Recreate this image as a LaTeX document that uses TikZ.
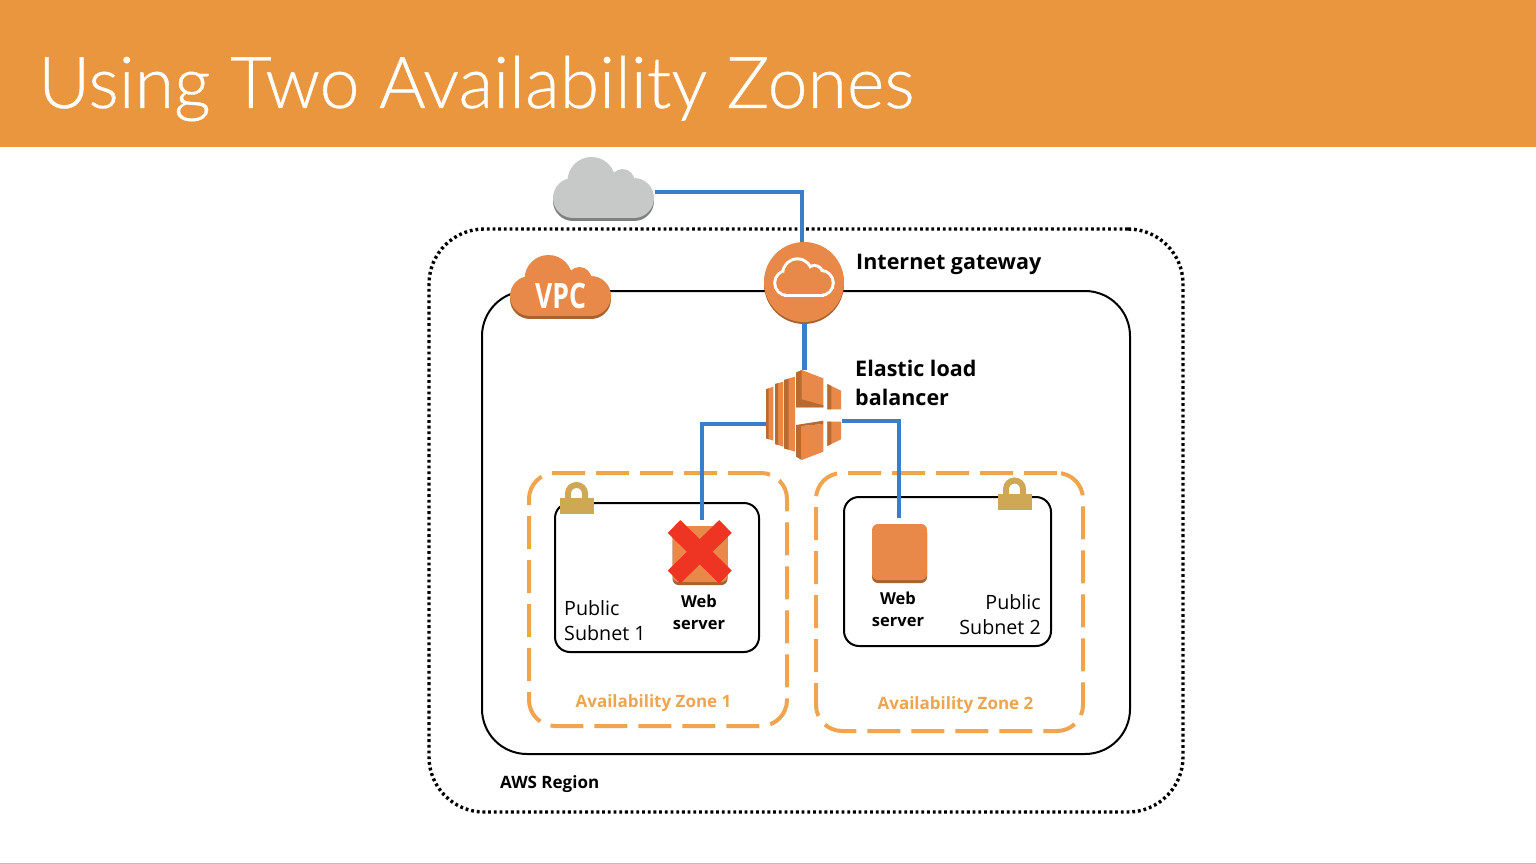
\documentclass[tikz,border=0pt]{standalone}
\usepackage{fontspec}
\setmainfont{Open Sans}
\newfontfamily\titlefont[FakeBold=0.5]{Lato Light}
\usetikzlibrary{shapes}

\definecolor{bannerorange}{HTML}{E9963F}
\definecolor{iconorange}{HTML}{E8894A}
\definecolor{icondark}{HTML}{A8622F}
\definecolor{iconmid}{HTML}{B86A33}
\definecolor{zoneorange}{HTML}{EFA44F}
\definecolor{linkblue}{HTML}{3A7DC9}
\definecolor{cloudgrey}{HTML}{C7C9C8}
\definecolor{clouddark}{HTML}{7F8180}
\definecolor{lockgold}{HTML}{CFA855}
\definecolor{crossred}{HTML}{EE3524}

\newcommand{\cloudfill}[1]{%
    \path[#1] (-12,-8) circle (24) (19,-8) circle (12) (30.5,9) circle (20) (-30.5,9) circle (20);
    \path[#1] (-30.5,-11) rectangle (30.5,29);}

\tikzset{
    pics/cloudicon/.style 2 args={code={
        \begin{scope}[shift={(0,3)}]\cloudfill{fill=#2}\end{scope}
        \cloudfill{fill=#1}
    }},
    pics/igwcloud/.style={code={
        \cloudfill{draw=white,line width=6}
        \cloudfill{fill=iconorange}
    }},
    pics/lockicon/.style={code={
        \draw[lockgold,line width=6] (-8.5,-6) -- (-8.5,-12.5) arc (180:360:8.5) -- (8.5,-6);
        \fill[lockgold] (-17,-8) rectangle (17,8);
    }}
}

\begin{document}
\begin{tikzpicture}[x=1pt,y=-1pt]
    \tikzstyle{every node}=[inner sep=0pt]
    \tikzstyle{regionbox}=[rectangle, draw, line width=3.4pt, dash pattern=on 2.8pt off 2.9pt, rounded corners=55pt]
    \tikzstyle{vpcbox}=[rectangle, draw, line width=2pt, rounded corners=45pt]
    \tikzstyle{zonebox}=[rectangle, draw=zoneorange, line width=4pt, dash pattern=on 33pt off 11pt, rounded corners=26pt]
    \tikzstyle{subnetbox}=[rectangle, draw, line width=2pt, rounded corners=15pt]
    \tikzstyle{link}=[draw=linkblue, line width=4pt]
    \tikzstyle{server}=[rectangle, fill=iconorange, rounded corners=6pt, minimum width=55pt, minimum height=56pt]
    \tikzstyle{boldlabel}=[font=\fontsize{21.5}{29}\selectfont\bfseries, align=left]
    \tikzstyle{weblabel}=[font=\fontsize{16.5}{22.5}\selectfont\bfseries, align=center]
    \tikzstyle{regionlabel}=[font=\fontsize{17}{23}\selectfont\bfseries]
    \tikzstyle{subnetlabel}=[font=\fontsize{19.7}{25}\selectfont]
    \tikzstyle{zonelabel}=[font=\fontsize{17}{20}\selectfont\bfseries, text=zoneorange]

    \useasboundingbox (0,0) rectangle (1536,864);
    \fill[white] (0,0) rectangle (1536,864);
    \fill[black!25] (0,863) rectangle (1536,864);

    % title banner
    \fill[bannerorange] (0,0) rectangle (1536,147);
    \node[anchor=base west, text=white, font=\fontsize{71.6}{90}\selectfont\titlefont] (title) at (38,108) {Using Two Availability Zones};

    % boxes
    \node[regionbox, minimum width=754pt, minimum height=583pt] (region) at (806,520.5) {};
    \node[vpcbox, minimum width=648pt, minimum height=463pt] (vpc) at (806,522.5) {};
    \node[zonebox, minimum width=258pt, minimum height=253pt] (zoneA) at (658,599.5) {};
    \node[zonebox, minimum width=267pt, minimum height=258pt] (zoneB) at (949.5,602) {};
    \node[subnetbox, minimum width=204pt, minimum height=149pt] (subnetA) at (657,577.5) {};
    \node[subnetbox, minimum width=207pt, minimum height=149pt] (subnetB) at (947.5,571.5) {};

    % icon anchors
    \node[minimum width=101pt, minimum height=64pt] (internet) at (604,192) {};
    \node[circle, minimum size=80pt] (igw) at (804,282) {};
    \node[minimum width=76pt, minimum height=90pt] (elb) at (804,415) {};
    \node[minimum width=55pt, minimum height=56pt] (webA) at (700,554) {};
    \node[minimum width=55pt, minimum height=56pt] (webB) at (899.5,552) {};

    % connectors
    \draw[link] (internet.east) -| ([xshift=-2pt]igw.north);
    \draw[link, line width=5pt] (igw.south) -- (elb.north);
    \draw[link] ([yshift=-9pt]elb.west) -| ([xshift=2pt,yshift=6pt]webA.north);
    \draw[link] ([yshift=-6pt]elb.east) -| ([xshift=-.5pt,yshift=6pt]webB.north);

    % clouds
    \pic at (603.5,189) {cloudicon={cloudgrey}{clouddark}};
    \pic at (560.5,287) {cloudicon={iconorange}{icondark}};
    \node[text=white, xscale=.76, font=\fontsize{35}{35}\selectfont\bfseries] (vpclabel) at (560.5,296) {VPC};

    % internet gateway
    \fill[icondark] (804,284) circle (40);
    \fill[iconorange] (igw.center) circle (40);
    \pic[scale=.55] at (804,278) {igwcloud};

    % load balancer
    \begin{scope}[shift={(740,350)},x=.3333pt,y=-.3333pt]
        \fill[iconorange] (78,118) -- (100,110) -- (100,272) -- (78,265) -- cycle;
        \fill[iconorange] (105,102) -- (130,95) -- (130,290) -- (105,282) -- cycle;
        \fill[iconorange] (132,90) -- (165,80) -- (165,305) -- (132,295) -- cycle;
        \fill[iconmid] (78,118) -- (86,115) -- (86,268) -- (78,265) -- cycle;
        \fill[iconmid] (105,102) -- (114,100) -- (114,285) -- (105,282) -- cycle;
        \fill[iconmid] (132,90) -- (146,86) -- (146,299) -- (132,295) -- cycle;
        \fill[iconorange] (185,60) -- (250,85) -- (250,172) -- (168,172) -- (168,68) -- cycle;
        \fill[iconorange] (185,228) -- (250,222) -- (250,305) -- (185,330) -- cycle;
        \fill[iconmid] (168,68) -- (185,60) -- (185,148) -- (250,166) -- (250,172) -- (168,172) -- cycle;
        \fill[iconmid] (168,225) -- (250,212) -- (250,222) -- (185,228) -- (185,330) -- (168,320) -- cycle;
        \fill[iconorange] (262,102) -- (303,122) -- (303,178) -- (262,178) -- cycle;
        \fill[iconorange] (262,215) -- (303,215) -- (303,268) -- (262,288) -- cycle;
        \fill[iconmid] (262,102) -- (274,108) -- (274,178) -- (262,178) -- cycle;
        \fill[iconmid] (262,215) -- (274,215) -- (274,282) -- (262,288) -- cycle;
    \end{scope}

    % servers
    \node[server, fill=icondark] (webAshade) at (700,557) {};
    \node[server] (webAface) at (700,554) {};
    \node[server, fill=icondark] (webBshade) at (899.5,555) {};
    \node[server] (webBface) at (899.5,552) {};

    % failed server
    \coordinate (crossNW) at (674,526.5);
    \coordinate (crossSE) at (725.5,577);
    \coordinate (crossNE) at (725.5,526.5);
    \coordinate (crossSW) at (674,577);
    \draw[crossred, line width=18pt] (crossNW) -- (crossSE);
    \draw[crossred, line width=18pt] (crossNE) -- (crossSW);

    % locks
    \pic at (576.5,506) {lockicon};
    \pic at (1014.5,501.5) {lockicon};

    % labels
    \node[boldlabel, anchor=west] (igwlabel) at (856,264.5) {Internet gateway};
    \node[boldlabel, anchor=west] (elblabel) at (855,383) {Elastic load\\balancer};
    \node[weblabel] (webAlabel) at (699,612.5) {Web\\server};
    \node[weblabel] (webBlabel) at (898,609.5) {Web\\server};
    \node[subnetlabel, anchor=west, align=left] (subnetAlabel) at (564,620.5) {Public\\Subnet 1};
    \node[subnetlabel, anchor=east, align=right] (subnetBlabel) at (1041,614.5) {Public\\Subnet 2};
    \node[zonelabel] (zoneAlabel) at (653.5,703.5) {Availability Zone 1};
    \node[zonelabel] (zoneBlabel) at (955.5,705.5) {Availability Zone 2};
    \node[regionlabel, anchor=west] (awslabel) at (500,784.5) {AWS Region};
\end{tikzpicture}
\end{document}
